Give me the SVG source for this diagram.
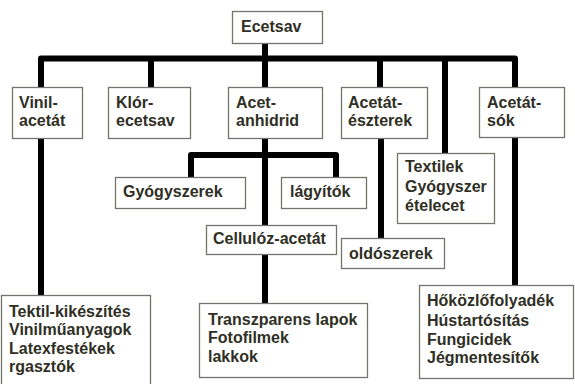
<svg xmlns="http://www.w3.org/2000/svg" width="575" height="384" viewBox="0 0 575 384">
<style>
.box{fill:#fff;stroke:#74746a;stroke-width:1.3}
.t{font-family:"Liberation Sans",Arial,sans-serif;font-weight:bold;font-size:16px;fill:#2f2f25}
.c{fill:none;stroke:#000;stroke-width:6;stroke-linejoin:round}
</style>
<rect width="575" height="384" fill="#fff"/>
<g id="connectors">
<path class="c" d="M41,87 V58.5 H515 V87"/>
<path class="c" d="M151,58.5 V87"/>
<path class="c" d="M265,43 V87"/>
<path class="c" d="M380,58.5 V87"/>
<path class="c" d="M445,58.5 V153"/>
<path class="c" d="M41,138 V295"/>
<path class="c" d="M265,138 V225"/>
<path class="c" d="M191,177 V155 H336 V177"/>
<path class="c" d="M265,254 V303"/>
<path class="c" d="M381,138 V238"/>
<path class="c" d="M515,137 V285"/>
</g>
<g id="ecetsav"><rect class="box" x="232.5" y="11.5" width="90" height="32"/><text class="t" x="241" y="32">Ecetsav</text></g>
<g id="vinil-acetat"><rect class="box" x="12.5" y="87.5" width="70" height="51"/><text class="t" x="19" y="108">Vinil-</text><text class="t" x="19" y="126">acetát</text></g>
<g id="klor-ecetsav"><rect class="box" x="108.5" y="87.5" width="82" height="51"/><text class="t" x="116" y="108">Klór-</text><text class="t" x="116" y="126">ecetsav</text></g>
<g id="acet-anhidrid"><rect class="box" x="228.5" y="87.5" width="94" height="51"/><text class="t" x="236" y="108">Acet-</text><text class="t" x="236" y="126">anhidrid</text></g>
<g id="acetat-eszterek"><rect class="box" x="341.5" y="87.5" width="86" height="51"/><text class="t" x="348" y="108">Acetát-</text><text class="t" x="348" y="126">észterek</text></g>
<g id="acetat-sok"><rect class="box" x="479.5" y="87.5" width="85" height="50"/><text class="t" x="487" y="108">Acetát-</text><text class="t" x="487" y="126">sók</text></g>
<g id="gyogyszerek"><rect class="box" x="115.5" y="177.5" width="130" height="31"/><text class="t" x="123" y="197">Gyógyszerek</text></g>
<g id="lagyitok"><rect class="box" x="281.5" y="177.5" width="85" height="31"/><text class="t" x="290" y="197">lágyítók</text></g>
<g id="textilek"><rect class="box" x="397.5" y="153.5" width="97" height="70"/><text class="t" x="405" y="172">Textilek</text><text class="t" x="405" y="192">Gyógyszer</text><text class="t" x="405" y="211">ételecet</text></g>
<g id="cellulozacetat"><rect class="box" x="206.5" y="225.5" width="130" height="29"/><text class="t" x="213" y="244">Cellulóz-acetát</text></g>
<g id="oldoszerek"><rect class="box" x="341.5" y="238.5" width="103" height="30"/><text class="t" x="349" y="259">oldószerek</text></g>
<g id="vinil-felhasznalas"><rect class="box" x="1.5" y="295.5" width="149" height="100"/><text class="t" x="9" y="317">Tektil-kikészítés</text><text class="t" x="9" y="335">Vinilműanyagok</text><text class="t" x="9" y="353.5">Latexfestékek</text><text class="t" x="9" y="372">rgasztók</text></g>
<g id="cellulozacetat-felhasznalas"><rect class="box" x="199.5" y="303.5" width="168" height="74"/><text class="t" x="208" y="325">Transzparens lapok</text><text class="t" x="208" y="343">Fotofilmek</text><text class="t" x="208" y="362">lakkok</text></g>
<g id="acetatsok-felhasznalas"><rect class="box" x="419.5" y="285.5" width="154" height="93"/><text class="t" x="427" y="306">Hőközlőfolyadék</text><text class="t" x="427" y="325.5">Hústartósítás</text><text class="t" x="427" y="344.5">Fungicidek</text><text class="t" x="427" y="363">Jégmentesítők</text></g>
</svg>
